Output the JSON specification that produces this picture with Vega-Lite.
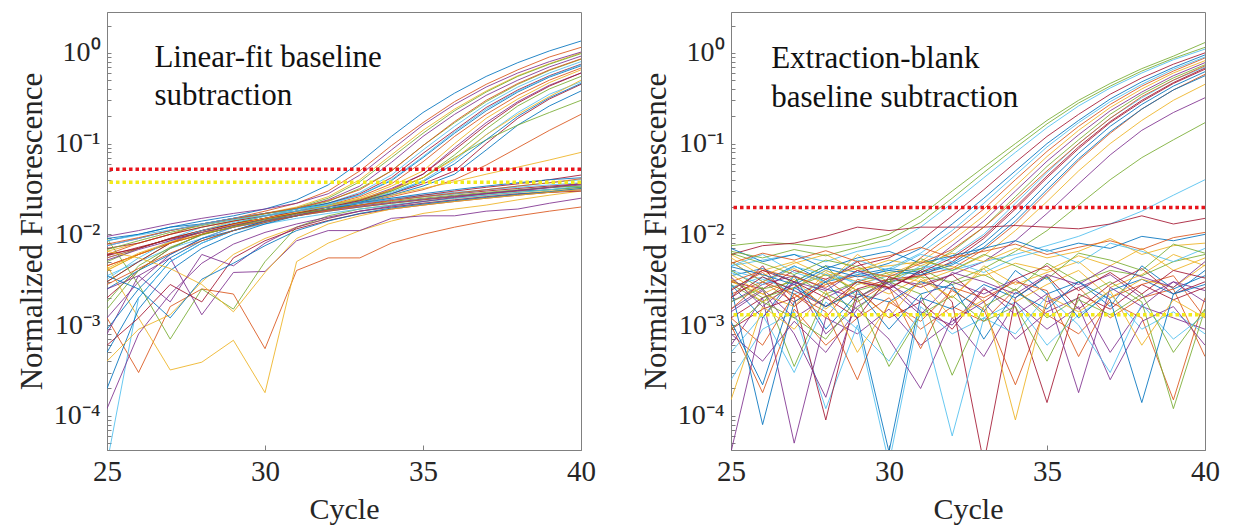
{
"$schema": "https://vega.github.io/schema/vega-lite/v6.json",
"padding": {"left": 15, "top": 11, "right": 0, "bottom": 0},
"background": "white",
"spacing": 150,
"bounds": "flush",
"config": {
  "view": {"stroke": "#808080", "strokeWidth": 1},
  "axis": {"labelFont": "Liberation Serif", "titleFont": "Liberation Serif", "labelColor": "#262626", "titleColor": "#262626", "domainColor": "#808080", "tickColor": "#808080", "grid": false, "titleFontWeight": "normal"}
},
"datasets": {
"left": [
{"s":"a01","c":25,"v":0.0085},{"s":"a01","c":26,"v":0.010},{"s":"a01","c":27,"v":0.012},{"s":"a01","c":28,"v":0.014},{"s":"a01","c":29,"v":0.016},{"s":"a01","c":30,"v":0.019},{"s":"a01","c":31,"v":0.024},{"s":"a01","c":32,"v":0.035},{"s":"a01","c":33,"v":0.062},{"s":"a01","c":34,"v":0.12},{"s":"a01","c":35,"v":0.22},{"s":"a01","c":36,"v":0.36},{"s":"a01","c":37,"v":0.55},{"s":"a01","c":38,"v":0.78},{"s":"a01","c":39,"v":1.05},{"s":"a01","c":40,"v":1.35},
{"s":"a02","c":25,"v":0.006},{"s":"a02","c":26,"v":0.008},{"s":"a02","c":27,"v":0.010},{"s":"a02","c":28,"v":0.013},{"s":"a02","c":29,"v":0.015},{"s":"a02","c":30,"v":0.018},{"s":"a02","c":31,"v":0.022},{"s":"a02","c":32,"v":0.030},{"s":"a02","c":33,"v":0.050},{"s":"a02","c":34,"v":0.095},{"s":"a02","c":35,"v":0.17},{"s":"a02","c":36,"v":0.29},{"s":"a02","c":37,"v":0.45},{"s":"a02","c":38,"v":0.65},{"s":"a02","c":39,"v":0.9},{"s":"a02","c":40,"v":1.15},
{"s":"a03","c":25,"v":0.004},{"s":"a03","c":26,"v":0.006},{"s":"a03","c":27,"v":0.008},{"s":"a03","c":28,"v":0.011},{"s":"a03","c":29,"v":0.014},{"s":"a03","c":30,"v":0.017},{"s":"a03","c":31,"v":0.020},{"s":"a03","c":32,"v":0.026},{"s":"a03","c":33,"v":0.040},{"s":"a03","c":34,"v":0.075},{"s":"a03","c":35,"v":0.14},{"s":"a03","c":36,"v":0.24},{"s":"a03","c":37,"v":0.38},{"s":"a03","c":38,"v":0.56},{"s":"a03","c":39,"v":0.76},{"s":"a03","c":40,"v":1.0},
{"s":"a04","c":25,"v":0.0075},{"s":"a04","c":26,"v":0.009},{"s":"a04","c":27,"v":0.011},{"s":"a04","c":28,"v":0.013},{"s":"a04","c":29,"v":0.015},{"s":"a04","c":30,"v":0.017},{"s":"a04","c":31,"v":0.019},{"s":"a04","c":32,"v":0.024},{"s":"a04","c":33,"v":0.034},{"s":"a04","c":34,"v":0.062},{"s":"a04","c":35,"v":0.12},{"s":"a04","c":36,"v":0.21},{"s":"a04","c":37,"v":0.34},{"s":"a04","c":38,"v":0.5},{"s":"a04","c":39,"v":0.7},{"s":"a04","c":40,"v":0.92},
{"s":"a05","c":25,"v":0.003},{"s":"a05","c":26,"v":0.005},{"s":"a05","c":27,"v":0.008},{"s":"a05","c":28,"v":0.010},{"s":"a05","c":29,"v":0.013},{"s":"a05","c":30,"v":0.016},{"s":"a05","c":31,"v":0.019},{"s":"a05","c":32,"v":0.023},{"s":"a05","c":33,"v":0.032},{"s":"a05","c":34,"v":0.050},{"s":"a05","c":35,"v":0.095},{"s":"a05","c":36,"v":0.17},{"s":"a05","c":37,"v":0.29},{"s":"a05","c":38,"v":0.45},{"s":"a05","c":39,"v":0.64},{"s":"a05","c":40,"v":0.85},
{"s":"a06","c":25,"v":0.0055},{"s":"a06","c":26,"v":0.007},{"s":"a06","c":27,"v":0.009},{"s":"a06","c":28,"v":0.012},{"s":"a06","c":29,"v":0.014},{"s":"a06","c":30,"v":0.016},{"s":"a06","c":31,"v":0.019},{"s":"a06","c":32,"v":0.022},{"s":"a06","c":33,"v":0.029},{"s":"a06","c":34,"v":0.045},{"s":"a06","c":35,"v":0.085},{"s":"a06","c":36,"v":0.155},{"s":"a06","c":37,"v":0.27},{"s":"a06","c":38,"v":0.42},{"s":"a06","c":39,"v":0.6},{"s":"a06","c":40,"v":0.8},
{"s":"a07","c":25,"v":0.002},{"s":"a07","c":26,"v":0.004},{"s":"a07","c":27,"v":0.007},{"s":"a07","c":28,"v":0.010},{"s":"a07","c":29,"v":0.012},{"s":"a07","c":30,"v":0.015},{"s":"a07","c":31,"v":0.018},{"s":"a07","c":32,"v":0.022},{"s":"a07","c":33,"v":0.028},{"s":"a07","c":34,"v":0.042},{"s":"a07","c":35,"v":0.078},{"s":"a07","c":36,"v":0.14},{"s":"a07","c":37,"v":0.25},{"s":"a07","c":38,"v":0.39},{"s":"a07","c":39,"v":0.56},{"s":"a07","c":40,"v":0.75},
{"s":"a08","c":25,"v":0.009},{"s":"a08","c":26,"v":0.010},{"s":"a08","c":27,"v":0.012},{"s":"a08","c":28,"v":0.013},{"s":"a08","c":29,"v":0.015},{"s":"a08","c":30,"v":0.017},{"s":"a08","c":31,"v":0.019},{"s":"a08","c":32,"v":0.022},{"s":"a08","c":33,"v":0.027},{"s":"a08","c":34,"v":0.039},{"s":"a08","c":35,"v":0.07},{"s":"a08","c":36,"v":0.13},{"s":"a08","c":37,"v":0.23},{"s":"a08","c":38,"v":0.37},{"s":"a08","c":39,"v":0.54},{"s":"a08","c":40,"v":0.72},
{"s":"a09","c":25,"v":0.0045},{"s":"a09","c":26,"v":0.006},{"s":"a09","c":27,"v":0.008},{"s":"a09","c":28,"v":0.011},{"s":"a09","c":29,"v":0.013},{"s":"a09","c":30,"v":0.015},{"s":"a09","c":31,"v":0.018},{"s":"a09","c":32,"v":0.021},{"s":"a09","c":33,"v":0.026},{"s":"a09","c":34,"v":0.036},{"s":"a09","c":35,"v":0.063},{"s":"a09","c":36,"v":0.12},{"s":"a09","c":37,"v":0.21},{"s":"a09","c":38,"v":0.34},{"s":"a09","c":39,"v":0.5},{"s":"a09","c":40,"v":0.68},
{"s":"a10","c":25,"v":0.0065},{"s":"a10","c":26,"v":0.008},{"s":"a10","c":27,"v":0.010},{"s":"a10","c":28,"v":0.012},{"s":"a10","c":29,"v":0.014},{"s":"a10","c":30,"v":0.016},{"s":"a10","c":31,"v":0.018},{"s":"a10","c":32,"v":0.021},{"s":"a10","c":33,"v":0.025},{"s":"a10","c":34,"v":0.034},{"s":"a10","c":35,"v":0.05},{"s":"a10","c":36,"v":0.10},{"s":"a10","c":37,"v":0.19},{"s":"a10","c":38,"v":0.31},{"s":"a10","c":39,"v":0.47},{"s":"a10","c":40,"v":0.65},
{"s":"a11","c":25,"v":0.0012},{"s":"a11","c":26,"v":0.003},{"s":"a11","c":27,"v":0.006},{"s":"a11","c":28,"v":0.009},{"s":"a11","c":29,"v":0.012},{"s":"a11","c":30,"v":0.014},{"s":"a11","c":31,"v":0.017},{"s":"a11","c":32,"v":0.020},{"s":"a11","c":33,"v":0.024},{"s":"a11","c":34,"v":0.032},{"s":"a11","c":35,"v":0.046},{"s":"a11","c":36,"v":0.09},{"s":"a11","c":37,"v":0.17},{"s":"a11","c":38,"v":0.29},{"s":"a11","c":39,"v":0.44},{"s":"a11","c":40,"v":0.6},
{"s":"a12","c":25,"v":0.005},{"s":"a12","c":26,"v":0.007},{"s":"a12","c":27,"v":0.009},{"s":"a12","c":28,"v":0.011},{"s":"a12","c":29,"v":0.013},{"s":"a12","c":30,"v":0.016},{"s":"a12","c":31,"v":0.018},{"s":"a12","c":32,"v":0.021},{"s":"a12","c":33,"v":0.024},{"s":"a12","c":34,"v":0.030},{"s":"a12","c":35,"v":0.042},{"s":"a12","c":36,"v":0.075},{"s":"a12","c":37,"v":0.145},{"s":"a12","c":38,"v":0.26},{"s":"a12","c":39,"v":0.4},{"s":"a12","c":40,"v":0.55},
{"s":"a13","c":25,"v":0.0035},{"s":"a13","c":26,"v":0.005},{"s":"a13","c":27,"v":0.007},{"s":"a13","c":28,"v":0.009},{"s":"a13","c":29,"v":0.012},{"s":"a13","c":30,"v":0.014},{"s":"a13","c":31,"v":0.017},{"s":"a13","c":32,"v":0.020},{"s":"a13","c":33,"v":0.023},{"s":"a13","c":34,"v":0.029},{"s":"a13","c":35,"v":0.039},{"s":"a13","c":36,"v":0.065},{"s":"a13","c":37,"v":0.125},{"s":"a13","c":38,"v":0.22},{"s":"a13","c":39,"v":0.35},{"s":"a13","c":40,"v":0.48},
{"s":"a14","c":25,"v":0.007},{"s":"a14","c":26,"v":0.008},{"s":"a14","c":27,"v":0.010},{"s":"a14","c":28,"v":0.012},{"s":"a14","c":29,"v":0.014},{"s":"a14","c":30,"v":0.016},{"s":"a14","c":31,"v":0.018},{"s":"a14","c":32,"v":0.020},{"s":"a14","c":33,"v":0.023},{"s":"a14","c":34,"v":0.028},{"s":"a14","c":35,"v":0.036},{"s":"a14","c":36,"v":0.05},{"s":"a14","c":37,"v":0.1},{"s":"a14","c":38,"v":0.19},{"s":"a14","c":39,"v":0.31},{"s":"a14","c":40,"v":0.45},
{"s":"a15","c":25,"v":0.0025},{"s":"a15","c":26,"v":0.004},{"s":"a15","c":27,"v":0.006},{"s":"a15","c":28,"v":0.009},{"s":"a15","c":29,"v":0.011},{"s":"a15","c":30,"v":0.014},{"s":"a15","c":31,"v":0.016},{"s":"a15","c":32,"v":0.019},{"s":"a15","c":33,"v":0.022},{"s":"a15","c":34,"v":0.027},{"s":"a15","c":35,"v":0.034},{"s":"a15","c":36,"v":0.046},{"s":"a15","c":37,"v":0.085},{"s":"a15","c":38,"v":0.16},{"s":"a15","c":39,"v":0.26},{"s":"a15","c":40,"v":0.38},
{"s":"a16","c":25,"v":0.0055},{"s":"a16","c":26,"v":0.007},{"s":"a16","c":27,"v":0.009},{"s":"a16","c":28,"v":0.011},{"s":"a16","c":29,"v":0.013},{"s":"a16","c":30,"v":0.015},{"s":"a16","c":31,"v":0.017},{"s":"a16","c":32,"v":0.019},{"s":"a16","c":33,"v":0.022},{"s":"a16","c":34,"v":0.026},{"s":"a16","c":35,"v":0.031},{"s":"a16","c":36,"v":0.04},{"s":"a16","c":37,"v":0.058},{"s":"a16","c":38,"v":0.09},{"s":"a16","c":39,"v":0.14},{"s":"a16","c":40,"v":0.21},
{"s":"a17","c":25,"v":0.004},{"s":"a17","c":26,"v":0.006},{"s":"a17","c":27,"v":0.008},{"s":"a17","c":28,"v":0.010},{"s":"a17","c":29,"v":0.013},{"s":"a17","c":30,"v":0.015},{"s":"a17","c":31,"v":0.017},{"s":"a17","c":32,"v":0.020},{"s":"a17","c":33,"v":0.023},{"s":"a17","c":34,"v":0.027},{"s":"a17","c":35,"v":0.032},{"s":"a17","c":36,"v":0.038},{"s":"a17","c":37,"v":0.046},{"s":"a17","c":38,"v":0.055},{"s":"a17","c":39,"v":0.066},{"s":"a17","c":40,"v":0.08},
{"s":"a18","c":25,"v":0.0095},{"s":"a18","c":26,"v":0.011},{"s":"a18","c":27,"v":0.013},{"s":"a18","c":28,"v":0.015},{"s":"a18","c":29,"v":0.017},{"s":"a18","c":30,"v":0.019},{"s":"a18","c":31,"v":0.022},{"s":"a18","c":32,"v":0.028},{"s":"a18","c":33,"v":0.045},{"s":"a18","c":34,"v":0.085},{"s":"a18","c":35,"v":0.16},{"s":"a18","c":36,"v":0.27},{"s":"a18","c":37,"v":0.42},{"s":"a18","c":38,"v":0.6},{"s":"a18","c":39,"v":0.8},{"s":"a18","c":40,"v":1.02},
{"s":"a19","c":25,"v":0.0015},{"s":"a19","c":26,"v":0.004},{"s":"a19","c":27,"v":0.007},{"s":"a19","c":28,"v":0.010},{"s":"a19","c":29,"v":0.012},{"s":"a19","c":30,"v":0.015},{"s":"a19","c":31,"v":0.017},{"s":"a19","c":32,"v":0.020},{"s":"a19","c":33,"v":0.023},{"s":"a19","c":34,"v":0.030},{"s":"a19","c":35,"v":0.042},{"s":"a19","c":36,"v":0.07},{"s":"a19","c":37,"v":0.11},{"s":"a19","c":38,"v":0.16},{"s":"a19","c":39,"v":0.22},{"s":"a19","c":40,"v":0.3},
{"s":"a20","c":25,"v":0.0075},{"s":"a20","c":26,"v":0.009},{"s":"a20","c":27,"v":0.011},{"s":"a20","c":28,"v":0.013},{"s":"a20","c":29,"v":0.015},{"s":"a20","c":30,"v":0.017},{"s":"a20","c":31,"v":0.019},{"s":"a20","c":32,"v":0.021},{"s":"a20","c":33,"v":0.023},{"s":"a20","c":34,"v":0.025},{"s":"a20","c":35,"v":0.027},{"s":"a20","c":36,"v":0.029},{"s":"a20","c":37,"v":0.031},{"s":"a20","c":38,"v":0.033},{"s":"a20","c":39,"v":0.035},{"s":"a20","c":40,"v":0.037},
{"s":"a21","c":25,"v":0.003},{"s":"a21","c":26,"v":0.005},{"s":"a21","c":27,"v":0.008},{"s":"a21","c":28,"v":0.011},{"s":"a21","c":29,"v":0.013},{"s":"a21","c":30,"v":0.015},{"s":"a21","c":31,"v":0.018},{"s":"a21","c":32,"v":0.020},{"s":"a21","c":33,"v":0.022},{"s":"a21","c":34,"v":0.024},{"s":"a21","c":35,"v":0.026},{"s":"a21","c":36,"v":0.028},{"s":"a21","c":37,"v":0.030},{"s":"a21","c":38,"v":0.032},{"s":"a21","c":39,"v":0.034},{"s":"a21","c":40,"v":0.036},
{"s":"a22","c":25,"v":0.0005},{"s":"a22","c":26,"v":0.002},{"s":"a22","c":27,"v":0.005},{"s":"a22","c":28,"v":0.008},{"s":"a22","c":29,"v":0.011},{"s":"a22","c":30,"v":0.014},{"s":"a22","c":31,"v":0.016},{"s":"a22","c":32,"v":0.018},{"s":"a22","c":33,"v":0.020},{"s":"a22","c":34,"v":0.022},{"s":"a22","c":35,"v":0.024},{"s":"a22","c":36,"v":0.026},{"s":"a22","c":37,"v":0.028},{"s":"a22","c":38,"v":0.030},{"s":"a22","c":39,"v":0.031},{"s":"a22","c":40,"v":0.033},
{"s":"a23","c":25,"v":0.0012},{"s":"a23","c":26,"v":0.0003},{"s":"a23","c":27,"v":0.0016},{"s":"a23","c":28,"v":0.0025},{"s":"a23","c":29,"v":0.0022},{"s":"a23","c":30,"v":0.00055},{"s":"a23","c":31,"v":0.004},{"s":"a23","c":32,"v":0.0055},{"s":"a23","c":33,"v":0.0055},{"s":"a23","c":34,"v":0.008},{"s":"a23","c":35,"v":0.010},{"s":"a23","c":36,"v":0.012},{"s":"a23","c":37,"v":0.014},{"s":"a23","c":38,"v":0.016},{"s":"a23","c":39,"v":0.018},{"s":"a23","c":40,"v":0.02},
{"s":"a24","c":25,"v":0.0045},{"s":"a24","c":26,"v":0.0012},{"s":"a24","c":27,"v":0.00032},{"s":"a24","c":28,"v":0.00039},{"s":"a24","c":29,"v":0.00068},{"s":"a24","c":30,"v":0.00018},{"s":"a24","c":31,"v":0.005},{"s":"a24","c":32,"v":0.008},{"s":"a24","c":33,"v":0.011},{"s":"a24","c":34,"v":0.014},{"s":"a24","c":35,"v":0.017},{"s":"a24","c":36,"v":0.019},{"s":"a24","c":37,"v":0.021},{"s":"a24","c":38,"v":0.024},{"s":"a24","c":39,"v":0.027},{"s":"a24","c":40,"v":0.03},
{"s":"a25","c":25,"v":0.0008},{"s":"a25","c":26,"v":0.0035},{"s":"a25","c":27,"v":0.0055},{"s":"a25","c":28,"v":0.0013},{"s":"a25","c":29,"v":0.0038},{"s":"a25","c":30,"v":0.0039},{"s":"a25","c":31,"v":0.0085},{"s":"a25","c":32,"v":0.011},{"s":"a25","c":33,"v":0.011},{"s":"a25","c":34,"v":0.015},{"s":"a25","c":35,"v":0.016},{"s":"a25","c":36,"v":0.016},{"s":"a25","c":37,"v":0.018},{"s":"a25","c":38,"v":0.019},{"s":"a25","c":39,"v":0.022},{"s":"a25","c":40,"v":0.025},
{"s":"a26","c":25,"v":0.009},{"s":"a26","c":26,"v":0.0028},{"s":"a26","c":27,"v":0.0007},{"s":"a26","c":28,"v":0.0025},{"s":"a26","c":29,"v":0.0015},{"s":"a26","c":30,"v":0.005},{"s":"a26","c":31,"v":0.012},{"s":"a26","c":32,"v":0.016},{"s":"a26","c":33,"v":0.019},{"s":"a26","c":34,"v":0.021},{"s":"a26","c":35,"v":0.023},{"s":"a26","c":36,"v":0.025},{"s":"a26","c":37,"v":0.027},{"s":"a26","c":38,"v":0.029},{"s":"a26","c":39,"v":0.031},{"s":"a26","c":40,"v":0.033},
{"s":"a27","c":25,"v":0.00003},{"s":"a27","c":26,"v":0.002},{"s":"a27","c":27,"v":0.005},{"s":"a27","c":28,"v":0.008},{"s":"a27","c":29,"v":0.011},{"s":"a27","c":30,"v":0.013},{"s":"a27","c":31,"v":0.015},{"s":"a27","c":32,"v":0.017},{"s":"a27","c":33,"v":0.019},{"s":"a27","c":34,"v":0.021},{"s":"a27","c":35,"v":0.023},{"s":"a27","c":36,"v":0.025},{"s":"a27","c":37,"v":0.027},{"s":"a27","c":38,"v":0.029},{"s":"a27","c":39,"v":0.031},{"s":"a27","c":40,"v":0.034},
{"s":"a28","c":25,"v":0.006},{"s":"a28","c":26,"v":0.007},{"s":"a28","c":27,"v":0.009},{"s":"a28","c":28,"v":0.011},{"s":"a28","c":29,"v":0.013},{"s":"a28","c":30,"v":0.015},{"s":"a28","c":31,"v":0.017},{"s":"a28","c":32,"v":0.019},{"s":"a28","c":33,"v":0.021},{"s":"a28","c":34,"v":0.024},{"s":"a28","c":35,"v":0.027},{"s":"a28","c":36,"v":0.030},{"s":"a28","c":37,"v":0.033},{"s":"a28","c":38,"v":0.036},{"s":"a28","c":39,"v":0.040},{"s":"a28","c":40,"v":0.045},
{"s":"a29","c":25,"v":0.0002},{"s":"a29","c":26,"v":0.0015},{"s":"a29","c":27,"v":0.004},{"s":"a29","c":28,"v":0.007},{"s":"a29","c":29,"v":0.010},{"s":"a29","c":30,"v":0.013},{"s":"a29","c":31,"v":0.016},{"s":"a29","c":32,"v":0.019},{"s":"a29","c":33,"v":0.022},{"s":"a29","c":34,"v":0.025},{"s":"a29","c":35,"v":0.028},{"s":"a29","c":36,"v":0.031},{"s":"a29","c":37,"v":0.034},{"s":"a29","c":38,"v":0.037},{"s":"a29","c":39,"v":0.040},{"s":"a29","c":40,"v":0.042},
{"s":"a30","c":25,"v":0.0045},{"s":"a30","c":26,"v":0.006},{"s":"a30","c":27,"v":0.008},{"s":"a30","c":28,"v":0.010},{"s":"a30","c":29,"v":0.012},{"s":"a30","c":30,"v":0.014},{"s":"a30","c":31,"v":0.016},{"s":"a30","c":32,"v":0.018},{"s":"a30","c":33,"v":0.020},{"s":"a30","c":34,"v":0.022},{"s":"a30","c":35,"v":0.024},{"s":"a30","c":36,"v":0.026},{"s":"a30","c":37,"v":0.028},{"s":"a30","c":38,"v":0.030},{"s":"a30","c":39,"v":0.033},{"s":"a30","c":40,"v":0.036},
{"s":"a31","c":25,"v":0.0004},{"s":"a31","c":26,"v":0.0009},{"s":"a31","c":27,"v":0.0013},{"s":"a31","c":28,"v":0.003},{"s":"a31","c":29,"v":0.006},{"s":"a31","c":30,"v":0.009},{"s":"a31","c":31,"v":0.012},{"s":"a31","c":32,"v":0.015},{"s":"a31","c":33,"v":0.018},{"s":"a31","c":34,"v":0.020},{"s":"a31","c":35,"v":0.022},{"s":"a31","c":36,"v":0.024},{"s":"a31","c":37,"v":0.026},{"s":"a31","c":38,"v":0.028},{"s":"a31","c":39,"v":0.030},{"s":"a31","c":40,"v":0.032},
{"s":"a32","c":25,"v":0.0025},{"s":"a32","c":26,"v":0.0035},{"s":"a32","c":27,"v":0.0018},{"s":"a32","c":28,"v":0.006},{"s":"a32","c":29,"v":0.0045},{"s":"a32","c":30,"v":0.008},{"s":"a32","c":31,"v":0.012},{"s":"a32","c":32,"v":0.015},{"s":"a32","c":33,"v":0.018},{"s":"a32","c":34,"v":0.020},{"s":"a32","c":35,"v":0.022},{"s":"a32","c":36,"v":0.024},{"s":"a32","c":37,"v":0.026},{"s":"a32","c":38,"v":0.028},{"s":"a32","c":39,"v":0.029},{"s":"a32","c":40,"v":0.031},
{"s":"a33","c":25,"v":0.0068},{"s":"a33","c":26,"v":0.0085},{"s":"a33","c":27,"v":0.0105},{"s":"a33","c":28,"v":0.0125},{"s":"a33","c":29,"v":0.0145},{"s":"a33","c":30,"v":0.0168},{"s":"a33","c":31,"v":0.0195},{"s":"a33","c":32,"v":0.025},{"s":"a33","c":33,"v":0.038},{"s":"a33","c":34,"v":0.07},{"s":"a33","c":35,"v":0.13},{"s":"a33","c":36,"v":0.23},{"s":"a33","c":37,"v":0.37},{"s":"a33","c":38,"v":0.55},{"s":"a33","c":39,"v":0.75},{"s":"a33","c":40,"v":0.98},
{"s":"a34","c":25,"v":0.0032},{"s":"a34","c":26,"v":0.0055},{"s":"a34","c":27,"v":0.0085},{"s":"a34","c":28,"v":0.011},{"s":"a34","c":29,"v":0.0135},{"s":"a34","c":30,"v":0.0158},{"s":"a34","c":31,"v":0.0182},{"s":"a34","c":32,"v":0.0215},{"s":"a34","c":33,"v":0.027},{"s":"a34","c":34,"v":0.04},{"s":"a34","c":35,"v":0.072},{"s":"a34","c":36,"v":0.135},{"s":"a34","c":37,"v":0.24},{"s":"a34","c":38,"v":0.38},{"s":"a34","c":39,"v":0.55},{"s":"a34","c":40,"v":0.74},
{"s":"a35","c":25,"v":0.0058},{"s":"a35","c":26,"v":0.0072},{"s":"a35","c":27,"v":0.0088},{"s":"a35","c":28,"v":0.0105},{"s":"a35","c":29,"v":0.0125},{"s":"a35","c":30,"v":0.0148},{"s":"a35","c":31,"v":0.0172},{"s":"a35","c":32,"v":0.020},{"s":"a35","c":33,"v":0.0235},{"s":"a35","c":34,"v":0.031},{"s":"a35","c":35,"v":0.046},{"s":"a35","c":36,"v":0.085},{"s":"a35","c":37,"v":0.16},{"s":"a35","c":38,"v":0.28},{"s":"a35","c":39,"v":0.43},{"s":"a35","c":40,"v":0.6},
{"s":"a36","c":25,"v":0.0009},{"s":"a36","c":26,"v":0.0025},{"s":"a36","c":27,"v":0.0055},{"s":"a36","c":28,"v":0.0085},{"s":"a36","c":29,"v":0.011},{"s":"a36","c":30,"v":0.0135},{"s":"a36","c":31,"v":0.016},{"s":"a36","c":32,"v":0.019},{"s":"a36","c":33,"v":0.0225},{"s":"a36","c":34,"v":0.028},{"s":"a36","c":35,"v":0.038},{"s":"a36","c":36,"v":0.06},{"s":"a36","c":37,"v":0.11},{"s":"a36","c":38,"v":0.2},{"s":"a36","c":39,"v":0.32},{"s":"a36","c":40,"v":0.46},
{"s":"a37","c":25,"v":0.0078},{"s":"a37","c":26,"v":0.0092},{"s":"a37","c":27,"v":0.011},{"s":"a37","c":28,"v":0.0128},{"s":"a37","c":29,"v":0.0148},{"s":"a37","c":30,"v":0.017},{"s":"a37","c":31,"v":0.0195},{"s":"a37","c":32,"v":0.0235},{"s":"a37","c":33,"v":0.031},{"s":"a37","c":34,"v":0.05},{"s":"a37","c":35,"v":0.095},{"s":"a37","c":36,"v":0.175},{"s":"a37","c":37,"v":0.3},{"s":"a37","c":38,"v":0.46},{"s":"a37","c":39,"v":0.65},{"s":"a37","c":40,"v":0.86},
{"s":"a38","c":25,"v":0.0042},{"s":"a38","c":26,"v":0.0062},{"s":"a38","c":27,"v":0.0082},{"s":"a38","c":28,"v":0.0105},{"s":"a38","c":29,"v":0.0128},{"s":"a38","c":30,"v":0.015},{"s":"a38","c":31,"v":0.0175},{"s":"a38","c":32,"v":0.0205},{"s":"a38","c":33,"v":0.0245},{"s":"a38","c":34,"v":0.031},{"s":"a38","c":35,"v":0.042},{"s":"a38","c":36,"v":0.068},{"s":"a38","c":37,"v":0.125},{"s":"a38","c":38,"v":0.21},{"s":"a38","c":39,"v":0.33},{"s":"a38","c":40,"v":0.5},
{"s":"a39","c":25,"v":0.0052},{"s":"a39","c":26,"v":0.0068},{"s":"a39","c":27,"v":0.0085},{"s":"a39","c":28,"v":0.0105},{"s":"a39","c":29,"v":0.0125},{"s":"a39","c":30,"v":0.0145},{"s":"a39","c":31,"v":0.0165},{"s":"a39","c":32,"v":0.0185},{"s":"a39","c":33,"v":0.0205},{"s":"a39","c":34,"v":0.0225},{"s":"a39","c":35,"v":0.0245},{"s":"a39","c":36,"v":0.0265},{"s":"a39","c":37,"v":0.0285},{"s":"a39","c":38,"v":0.0305},{"s":"a39","c":39,"v":0.0325},{"s":"a39","c":40,"v":0.035},
{"s":"a40","c":25,"v":0.0018},{"s":"a40","c":26,"v":0.0045},{"s":"a40","c":27,"v":0.0072},{"s":"a40","c":28,"v":0.0098},{"s":"a40","c":29,"v":0.0122},{"s":"a40","c":30,"v":0.0145},{"s":"a40","c":31,"v":0.0168},{"s":"a40","c":32,"v":0.019},{"s":"a40","c":33,"v":0.021},{"s":"a40","c":34,"v":0.023},{"s":"a40","c":35,"v":0.025},{"s":"a40","c":36,"v":0.027},{"s":"a40","c":37,"v":0.029},{"s":"a40","c":38,"v":0.031},{"s":"a40","c":39,"v":0.033},{"s":"a40","c":40,"v":0.034},
{"s":"a41","c":25,"v":0.0085},{"s":"a41","c":26,"v":0.0098},{"s":"a41","c":27,"v":0.0112},{"s":"a41","c":28,"v":0.0128},{"s":"a41","c":29,"v":0.0145},{"s":"a41","c":30,"v":0.0162},{"s":"a41","c":31,"v":0.018},{"s":"a41","c":32,"v":0.020},{"s":"a41","c":33,"v":0.022},{"s":"a41","c":34,"v":0.024},{"s":"a41","c":35,"v":0.026},{"s":"a41","c":36,"v":0.028},{"s":"a41","c":37,"v":0.031},{"s":"a41","c":38,"v":0.034},{"s":"a41","c":39,"v":0.037},{"s":"a41","c":40,"v":0.04},
{"s":"a42","c":25,"v":0.0006},{"s":"a42","c":26,"v":0.0012},{"s":"a42","c":27,"v":0.0028},{"s":"a42","c":28,"v":0.0018},{"s":"a42","c":29,"v":0.0055},{"s":"a42","c":30,"v":0.0085},{"s":"a42","c":31,"v":0.0115},{"s":"a42","c":32,"v":0.0142},{"s":"a42","c":33,"v":0.0168},{"s":"a42","c":34,"v":0.019},{"s":"a42","c":35,"v":0.021},{"s":"a42","c":36,"v":0.023},{"s":"a42","c":37,"v":0.025},{"s":"a42","c":38,"v":0.027},{"s":"a42","c":39,"v":0.029},{"s":"a42","c":40,"v":0.03},
{"s":"a43","c":25,"v":0.0035},{"s":"a43","c":26,"v":0.0025},{"s":"a43","c":27,"v":0.0012},{"s":"a43","c":28,"v":0.0032},{"s":"a43","c":29,"v":0.0048},{"s":"a43","c":30,"v":0.0075},{"s":"a43","c":31,"v":0.011},{"s":"a43","c":32,"v":0.014},{"s":"a43","c":33,"v":0.017},{"s":"a43","c":34,"v":0.0195},{"s":"a43","c":35,"v":0.0215},{"s":"a43","c":36,"v":0.0235},{"s":"a43","c":37,"v":0.0255},{"s":"a43","c":38,"v":0.0275},{"s":"a43","c":39,"v":0.0295},{"s":"a43","c":40,"v":0.032},
{"s":"a44","c":25,"v":0.0028},{"s":"a44","c":26,"v":0.0042},{"s":"a44","c":27,"v":0.0062},{"s":"a44","c":28,"v":0.0085},{"s":"a44","c":29,"v":0.011},{"s":"a44","c":30,"v":0.0135},{"s":"a44","c":31,"v":0.016},{"s":"a44","c":32,"v":0.0185},{"s":"a44","c":33,"v":0.021},{"s":"a44","c":34,"v":0.0235},{"s":"a44","c":35,"v":0.026},{"s":"a44","c":36,"v":0.0285},{"s":"a44","c":37,"v":0.031},{"s":"a44","c":38,"v":0.034},{"s":"a44","c":39,"v":0.037},{"s":"a44","c":40,"v":0.041},
{"s":"a45","c":25,"v":0.0065},{"s":"a45","c":26,"v":0.0055},{"s":"a45","c":27,"v":0.0042},{"s":"a45","c":28,"v":0.0028},{"s":"a45","c":29,"v":0.0014},{"s":"a45","c":30,"v":0.0038},{"s":"a45","c":31,"v":0.009},{"s":"a45","c":32,"v":0.013},{"s":"a45","c":33,"v":0.016},{"s":"a45","c":34,"v":0.019},{"s":"a45","c":35,"v":0.021},{"s":"a45","c":36,"v":0.023},{"s":"a45","c":37,"v":0.025},{"s":"a45","c":38,"v":0.027},{"s":"a45","c":39,"v":0.029},{"s":"a45","c":40,"v":0.031},
{"s":"a46","c":25,"v":0.00012},{"s":"a46","c":26,"v":0.0008},{"s":"a46","c":27,"v":0.0022},{"s":"a46","c":28,"v":0.0048},{"s":"a46","c":29,"v":0.0078},{"s":"a46","c":30,"v":0.0105},{"s":"a46","c":31,"v":0.013},{"s":"a46","c":32,"v":0.0155},{"s":"a46","c":33,"v":0.018},{"s":"a46","c":34,"v":0.0205},{"s":"a46","c":35,"v":0.023},{"s":"a46","c":36,"v":0.0255},{"s":"a46","c":37,"v":0.028},{"s":"a46","c":38,"v":0.0305},{"s":"a46","c":39,"v":0.033},{"s":"a46","c":40,"v":0.036}
],
"right": [
{"s":"b01","c":25,"v":0.0075},{"s":"b01","c":26,"v":0.0082},{"s":"b01","c":27,"v":0.0078},{"s":"b01","c":28,"v":0.0072},{"s":"b01","c":29,"v":0.0080},{"s":"b01","c":30,"v":0.0100},{"s":"b01","c":31,"v":0.016},{"s":"b01","c":32,"v":0.030},{"s":"b01","c":33,"v":0.055},{"s":"b01","c":34,"v":0.10},{"s":"b01","c":35,"v":0.18},{"s":"b01","c":36,"v":0.30},{"s":"b01","c":37,"v":0.46},{"s":"b01","c":38,"v":0.67},{"s":"b01","c":39,"v":0.92},{"s":"b01","c":40,"v":1.3},
{"s":"b02","c":25,"v":0.0045},{"s":"b02","c":26,"v":0.0052},{"s":"b02","c":27,"v":0.0060},{"s":"b02","c":28,"v":0.0050},{"s":"b02","c":29,"v":0.0065},{"s":"b02","c":30,"v":0.0075},{"s":"b02","c":31,"v":0.012},{"s":"b02","c":32,"v":0.022},{"s":"b02","c":33,"v":0.042},{"s":"b02","c":34,"v":0.080},{"s":"b02","c":35,"v":0.15},{"s":"b02","c":36,"v":0.26},{"s":"b02","c":37,"v":0.41},{"s":"b02","c":38,"v":0.6},{"s":"b02","c":39,"v":0.84},{"s":"b02","c":40,"v":1.1},
{"s":"b03","c":25,"v":0.003},{"s":"b03","c":26,"v":0.0025},{"s":"b03","c":27,"v":0.0040},{"s":"b03","c":28,"v":0.0032},{"s":"b03","c":29,"v":0.0045},{"s":"b03","c":30,"v":0.0055},{"s":"b03","c":31,"v":0.0085},{"s":"b03","c":32,"v":0.016},{"s":"b03","c":33,"v":0.031},{"s":"b03","c":34,"v":0.062},{"s":"b03","c":35,"v":0.12},{"s":"b03","c":36,"v":0.21},{"s":"b03","c":37,"v":0.35},{"s":"b03","c":38,"v":0.53},{"s":"b03","c":39,"v":0.75},{"s":"b03","c":40,"v":1.0},
{"s":"b04","c":25,"v":0.0035},{"s":"b04","c":26,"v":0.0042},{"s":"b04","c":27,"v":0.0030},{"s":"b04","c":28,"v":0.0045},{"s":"b04","c":29,"v":0.0038},{"s":"b04","c":30,"v":0.0048},{"s":"b04","c":31,"v":0.0070},{"s":"b04","c":32,"v":0.013},{"s":"b04","c":33,"v":0.025},{"s":"b04","c":34,"v":0.050},{"s":"b04","c":35,"v":0.10},{"s":"b04","c":36,"v":0.18},{"s":"b04","c":37,"v":0.31},{"s":"b04","c":38,"v":0.48},{"s":"b04","c":39,"v":0.69},{"s":"b04","c":40,"v":0.95},
{"s":"b05","c":25,"v":0.0022},{"s":"b05","c":26,"v":0.0030},{"s":"b05","c":27,"v":0.0018},{"s":"b05","c":28,"v":0.0028},{"s":"b05","c":29,"v":0.0035},{"s":"b05","c":30,"v":0.0030},{"s":"b05","c":31,"v":0.0055},{"s":"b05","c":32,"v":0.010},{"s":"b05","c":33,"v":0.019},{"s":"b05","c":34,"v":0.040},{"s":"b05","c":35,"v":0.082},{"s":"b05","c":36,"v":0.155},{"s":"b05","c":37,"v":0.27},{"s":"b05","c":38,"v":0.43},{"s":"b05","c":39,"v":0.63},{"s":"b05","c":40,"v":0.88},
{"s":"b06","c":25,"v":0.0060},{"s":"b06","c":26,"v":0.0040},{"s":"b06","c":27,"v":0.0050},{"s":"b06","c":28,"v":0.0035},{"s":"b06","c":29,"v":0.0042},{"s":"b06","c":30,"v":0.0045},{"s":"b06","c":31,"v":0.0050},{"s":"b06","c":32,"v":0.0085},{"s":"b06","c":33,"v":0.016},{"s":"b06","c":34,"v":0.034},{"s":"b06","c":35,"v":0.072},{"s":"b06","c":36,"v":0.14},{"s":"b06","c":37,"v":0.25},{"s":"b06","c":38,"v":0.40},{"s":"b06","c":39,"v":0.6},{"s":"b06","c":40,"v":0.82},
{"s":"b07","c":25,"v":0.0015},{"s":"b07","c":26,"v":0.0025},{"s":"b07","c":27,"v":0.0012},{"s":"b07","c":28,"v":0.0020},{"s":"b07","c":29,"v":0.0030},{"s":"b07","c":30,"v":0.0025},{"s":"b07","c":31,"v":0.0040},{"s":"b07","c":32,"v":0.0075},{"s":"b07","c":33,"v":0.014},{"s":"b07","c":34,"v":0.030},{"s":"b07","c":35,"v":0.064},{"s":"b07","c":36,"v":0.125},{"s":"b07","c":37,"v":0.23},{"s":"b07","c":38,"v":0.37},{"s":"b07","c":39,"v":0.56},{"s":"b07","c":40,"v":0.78},
{"s":"b08","c":25,"v":0.0028},{"s":"b08","c":26,"v":0.0018},{"s":"b08","c":27,"v":0.0035},{"s":"b08","c":28,"v":0.0022},{"s":"b08","c":29,"v":0.0030},{"s":"b08","c":30,"v":0.0038},{"s":"b08","c":31,"v":0.0042},{"s":"b08","c":32,"v":0.0065},{"s":"b08","c":33,"v":0.012},{"s":"b08","c":34,"v":0.026},{"s":"b08","c":35,"v":0.056},{"s":"b08","c":36,"v":0.11},{"s":"b08","c":37,"v":0.21},{"s":"b08","c":38,"v":0.35},{"s":"b08","c":39,"v":0.53},{"s":"b08","c":40,"v":0.74},
{"s":"b09","c":25,"v":0.0040},{"s":"b09","c":26,"v":0.0032},{"s":"b09","c":27,"v":0.0025},{"s":"b09","c":28,"v":0.0040},{"s":"b09","c":29,"v":0.0028},{"s":"b09","c":30,"v":0.0035},{"s":"b09","c":31,"v":0.0040},{"s":"b09","c":32,"v":0.0058},{"s":"b09","c":33,"v":0.010},{"s":"b09","c":34,"v":0.022},{"s":"b09","c":35,"v":0.048},{"s":"b09","c":36,"v":0.10},{"s":"b09","c":37,"v":0.19},{"s":"b09","c":38,"v":0.32},{"s":"b09","c":39,"v":0.5},{"s":"b09","c":40,"v":0.7},
{"s":"b10","c":25,"v":0.0012},{"s":"b10","c":26,"v":0.0020},{"s":"b10","c":27,"v":0.0028},{"s":"b10","c":28,"v":0.0016},{"s":"b10","c":29,"v":0.0025},{"s":"b10","c":30,"v":0.0032},{"s":"b10","c":31,"v":0.0035},{"s":"b10","c":32,"v":0.0050},{"s":"b10","c":33,"v":0.0090},{"s":"b10","c":34,"v":0.019},{"s":"b10","c":35,"v":0.042},{"s":"b10","c":36,"v":0.088},{"s":"b10","c":37,"v":0.17},{"s":"b10","c":38,"v":0.29},{"s":"b10","c":39,"v":0.46},{"s":"b10","c":40,"v":0.66},
{"s":"b11","c":25,"v":0.0050},{"s":"b11","c":26,"v":0.0030},{"s":"b11","c":27,"v":0.0045},{"s":"b11","c":28,"v":0.0030},{"s":"b11","c":29,"v":0.0036},{"s":"b11","c":30,"v":0.0042},{"s":"b11","c":31,"v":0.0038},{"s":"b11","c":32,"v":0.0048},{"s":"b11","c":33,"v":0.0080},{"s":"b11","c":34,"v":0.016},{"s":"b11","c":35,"v":0.036},{"s":"b11","c":36,"v":0.078},{"s":"b11","c":37,"v":0.155},{"s":"b11","c":38,"v":0.27},{"s":"b11","c":39,"v":0.43},{"s":"b11","c":40,"v":0.62},
{"s":"b12","c":25,"v":0.0025},{"s":"b12","c":26,"v":0.0038},{"s":"b12","c":27,"v":0.0020},{"s":"b12","c":28,"v":0.0032},{"s":"b12","c":29,"v":0.0018},{"s":"b12","c":30,"v":0.0030},{"s":"b12","c":31,"v":0.0035},{"s":"b12","c":32,"v":0.0042},{"s":"b12","c":33,"v":0.0068},{"s":"b12","c":34,"v":0.013},{"s":"b12","c":35,"v":0.029},{"s":"b12","c":36,"v":0.065},{"s":"b12","c":37,"v":0.13},{"s":"b12","c":38,"v":0.24},{"s":"b12","c":39,"v":0.39},{"s":"b12","c":40,"v":0.58},
{"s":"b13","c":25,"v":0.0030},{"s":"b13","c":26,"v":0.0022},{"s":"b13","c":27,"v":0.0032},{"s":"b13","c":28,"v":0.0015},{"s":"b13","c":29,"v":0.0028},{"s":"b13","c":30,"v":0.0036},{"s":"b13","c":31,"v":0.0030},{"s":"b13","c":32,"v":0.0040},{"s":"b13","c":33,"v":0.0058},{"s":"b13","c":34,"v":0.011},{"s":"b13","c":35,"v":0.023},{"s":"b13","c":36,"v":0.05},{"s":"b13","c":37,"v":0.1},{"s":"b13","c":38,"v":0.18},{"s":"b13","c":39,"v":0.3},{"s":"b13","c":40,"v":0.45},
{"s":"b14","c":25,"v":0.0018},{"s":"b14","c":26,"v":0.0028},{"s":"b14","c":27,"v":0.0035},{"s":"b14","c":28,"v":0.0025},{"s":"b14","c":29,"v":0.0020},{"s":"b14","c":30,"v":0.0032},{"s":"b14","c":31,"v":0.0028},{"s":"b14","c":32,"v":0.0036},{"s":"b14","c":33,"v":0.0050},{"s":"b14","c":34,"v":0.0085},{"s":"b14","c":35,"v":0.017},{"s":"b14","c":36,"v":0.036},{"s":"b14","c":37,"v":0.075},{"s":"b14","c":38,"v":0.14},{"s":"b14","c":39,"v":0.22},{"s":"b14","c":40,"v":0.32},
{"s":"b15","c":25,"v":0.0032},{"s":"b15","c":26,"v":0.0020},{"s":"b15","c":27,"v":0.0026},{"s":"b15","c":28,"v":0.0036},{"s":"b15","c":29,"v":0.0024},{"s":"b15","c":30,"v":0.0030},{"s":"b15","c":31,"v":0.0034},{"s":"b15","c":32,"v":0.0030},{"s":"b15","c":33,"v":0.0042},{"s":"b15","c":34,"v":0.0065},{"s":"b15","c":35,"v":0.011},{"s":"b15","c":36,"v":0.021},{"s":"b15","c":37,"v":0.04},{"s":"b15","c":38,"v":0.07},{"s":"b15","c":39,"v":0.11},{"s":"b15","c":40,"v":0.17},
{"s":"b16","c":25,"v":0.0026},{"s":"b16","c":26,"v":0.0034},{"s":"b16","c":27,"v":0.0022},{"s":"b16","c":28,"v":0.0030},{"s":"b16","c":29,"v":0.0038},{"s":"b16","c":30,"v":0.0028},{"s":"b16","c":31,"v":0.0045},{"s":"b16","c":32,"v":0.0040},{"s":"b16","c":33,"v":0.0050},{"s":"b16","c":34,"v":0.0060},{"s":"b16","c":35,"v":0.0075},{"s":"b16","c":36,"v":0.0095},{"s":"b16","c":37,"v":0.013},{"s":"b16","c":38,"v":0.018},{"s":"b16","c":39,"v":0.027},{"s":"b16","c":40,"v":0.04},
{"s":"b17","c":25,"v":0.0060},{"s":"b17","c":26,"v":0.0075},{"s":"b17","c":27,"v":0.0080},{"s":"b17","c":28,"v":0.0095},{"s":"b17","c":29,"v":0.012},{"s":"b17","c":30,"v":0.011},{"s":"b17","c":31,"v":0.012},{"s":"b17","c":32,"v":0.012},{"s":"b17","c":33,"v":0.012},{"s":"b17","c":34,"v":0.0125},{"s":"b17","c":35,"v":0.012},{"s":"b17","c":36,"v":0.0115},{"s":"b17","c":37,"v":0.013},{"s":"b17","c":38,"v":0.016},{"s":"b17","c":39,"v":0.013},{"s":"b17","c":40,"v":0.015},
{"s":"b18","c":25,"v":0.0028},{"s":"b18","c":26,"v":0.0012},{"s":"b18","c":27,"v":0.0035},{"s":"b18","c":28,"v":0.0009},{"s":"b18","c":29,"v":0.0022},{"s":"b18","c":30,"v":0.0018},{"s":"b18","c":31,"v":0.0030},{"s":"b18","c":32,"v":0.0025},{"s":"b18","c":33,"v":0.0014},{"s":"b18","c":34,"v":0.0040},{"s":"b18","c":35,"v":0.0022},{"s":"b18","c":36,"v":0.0030},{"s":"b18","c":37,"v":0.0016},{"s":"b18","c":38,"v":0.0045},{"s":"b18","c":39,"v":0.0025},{"s":"b18","c":40,"v":0.0035},
{"s":"b19","c":25,"v":0.0010},{"s":"b19","c":26,"v":0.00018},{"s":"b19","c":27,"v":0.0015},{"s":"b19","c":28,"v":0.0006},{"s":"b19","c":29,"v":0.0012},{"s":"b19","c":30,"v":0.0020},{"s":"b19","c":31,"v":0.0009},{"s":"b19","c":32,"v":0.0016},{"s":"b19","c":33,"v":0.0011},{"s":"b19","c":34,"v":0.0025},{"s":"b19","c":35,"v":0.0013},{"s":"b19","c":36,"v":0.0008},{"s":"b19","c":37,"v":0.0018},{"s":"b19","c":38,"v":0.0012},{"s":"b19","c":39,"v":0.00015},{"s":"b19","c":40,"v":0.0020},
{"s":"b20","c":25,"v":0.0055},{"s":"b20","c":26,"v":0.0035},{"s":"b20","c":27,"v":0.0048},{"s":"b20","c":28,"v":0.0060},{"s":"b20","c":29,"v":0.0040},{"s":"b20","c":30,"v":0.0052},{"s":"b20","c":31,"v":0.0045},{"s":"b20","c":32,"v":0.0062},{"s":"b20","c":33,"v":0.0050},{"s":"b20","c":34,"v":0.0070},{"s":"b20","c":35,"v":0.0055},{"s":"b20","c":36,"v":0.0065},{"s":"b20","c":37,"v":0.0090},{"s":"b20","c":38,"v":0.0060},{"s":"b20","c":39,"v":0.0075},{"s":"b20","c":40,"v":0.0080},
{"s":"b21","c":25,"v":0.0006},{"s":"b21","c":26,"v":0.0020},{"s":"b21","c":27,"v":0.00005},{"s":"b21","c":28,"v":0.0012},{"s":"b21","c":29,"v":0.0008},{"s":"b21","c":30,"v":0.0015},{"s":"b21","c":31,"v":0.0006},{"s":"b21","c":32,"v":0.0011},{"s":"b21","c":33,"v":0.0018},{"s":"b21","c":34,"v":0.0007},{"s":"b21","c":35,"v":0.0014},{"s":"b21","c":36,"v":0.0020},{"s":"b21","c":37,"v":0.0005},{"s":"b21","c":38,"v":0.0016},{"s":"b21","c":39,"v":0.0012},{"s":"b21","c":40,"v":0.0009},
{"s":"b22","c":25,"v":0.0040},{"s":"b22","c":26,"v":0.0025},{"s":"b22","c":27,"v":0.0030},{"s":"b22","c":28,"v":0.0045},{"s":"b22","c":29,"v":0.0020},{"s":"b22","c":30,"v":0.0032},{"s":"b22","c":31,"v":0.0042},{"s":"b22","c":32,"v":0.0028},{"s":"b22","c":33,"v":0.0036},{"s":"b22","c":34,"v":0.0024},{"s":"b22","c":35,"v":0.0048},{"s":"b22","c":36,"v":0.0030},{"s":"b22","c":37,"v":0.0040},{"s":"b22","c":38,"v":0.0035},{"s":"b22","c":39,"v":0.0050},{"s":"b22","c":40,"v":0.0060},
{"s":"b23","c":25,"v":0.00025},{"s":"b23","c":26,"v":0.0009},{"s":"b23","c":27,"v":0.0014},{"s":"b23","c":28,"v":0.00012},{"s":"b23","c":29,"v":0.0010},{"s":"b23","c":30,"v":0.00003},{"s":"b23","c":31,"v":0.0016},{"s":"b23","c":32,"v":0.0008},{"s":"b23","c":33,"v":0.0012},{"s":"b23","c":34,"v":0.0018},{"s":"b23","c":35,"v":0.0006},{"s":"b23","c":36,"v":0.0013},{"s":"b23","c":37,"v":0.0022},{"s":"b23","c":38,"v":0.0009},{"s":"b23","c":39,"v":0.0014},{"s":"b23","c":40,"v":0.0008},
{"s":"b24","c":25,"v":0.0020},{"s":"b24","c":26,"v":0.0045},{"s":"b24","c":27,"v":0.0016},{"s":"b24","c":28,"v":0.0030},{"s":"b24","c":29,"v":0.0050},{"s":"b24","c":30,"v":0.0025},{"s":"b24","c":31,"v":0.0040},{"s":"b24","c":32,"v":0.0018},{"s":"b24","c":33,"v":0.00003},{"s":"b24","c":34,"v":0.0020},{"s":"b24","c":35,"v":0.0035},{"s":"b24","c":36,"v":0.0015},{"s":"b24","c":37,"v":0.0028},{"s":"b24","c":38,"v":0.0042},{"s":"b24","c":39,"v":0.0022},{"s":"b24","c":40,"v":0.0030},
{"s":"b25","c":25,"v":0.0070},{"s":"b25","c":26,"v":0.0050},{"s":"b25","c":27,"v":0.0060},{"s":"b25","c":28,"v":0.0042},{"s":"b25","c":29,"v":0.0055},{"s":"b25","c":30,"v":0.0065},{"s":"b25","c":31,"v":0.0048},{"s":"b25","c":32,"v":0.0058},{"s":"b25","c":33,"v":0.0070},{"s":"b25","c":34,"v":0.0085},{"s":"b25","c":35,"v":0.0065},{"s":"b25","c":36,"v":0.0080},{"s":"b25","c":37,"v":0.0070},{"s":"b25","c":38,"v":0.0095},{"s":"b25","c":39,"v":0.0085},{"s":"b25","c":40,"v":0.0100},
{"s":"b26","c":25,"v":0.0012},{"s":"b26","c":26,"v":0.0006},{"s":"b26","c":27,"v":0.0022},{"s":"b26","c":28,"v":0.0014},{"s":"b26","c":29,"v":0.00025},{"s":"b26","c":30,"v":0.0018},{"s":"b26","c":31,"v":0.0011},{"s":"b26","c":32,"v":0.0024},{"s":"b26","c":33,"v":0.0015},{"s":"b26","c":34,"v":0.00022},{"s":"b26","c":35,"v":0.0017},{"s":"b26","c":36,"v":0.0026},{"s":"b26","c":37,"v":0.0012},{"s":"b26","c":38,"v":0.0020},{"s":"b26","c":39,"v":0.0025},{"s":"b26","c":40,"v":0.00045},
{"s":"b27","c":25,"v":0.0032},{"s":"b27","c":26,"v":0.0018},{"s":"b27","c":27,"v":0.0026},{"s":"b27","c":28,"v":0.0040},{"s":"b27","c":29,"v":0.0030},{"s":"b27","c":30,"v":0.0022},{"s":"b27","c":31,"v":0.0034},{"s":"b27","c":32,"v":0.0020},{"s":"b27","c":33,"v":0.0045},{"s":"b27","c":34,"v":0.0028},{"s":"b27","c":35,"v":0.0038},{"s":"b27","c":36,"v":0.0050},{"s":"b27","c":37,"v":0.0026},{"s":"b27","c":38,"v":0.0036},{"s":"b27","c":39,"v":0.0060},{"s":"b27","c":40,"v":0.0045},
{"s":"b28","c":25,"v":0.00004},{"s":"b28","c":26,"v":0.0012},{"s":"b28","c":27,"v":0.0030},{"s":"b28","c":28,"v":0.0008},{"s":"b28","c":29,"v":0.0016},{"s":"b28","c":30,"v":0.0026},{"s":"b28","c":31,"v":0.0013},{"s":"b28","c":32,"v":0.0030},{"s":"b28","c":33,"v":0.0022},{"s":"b28","c":34,"v":0.0032},{"s":"b28","c":35,"v":0.0018},{"s":"b28","c":36,"v":0.0026},{"s":"b28","c":37,"v":0.0036},{"s":"b28","c":38,"v":0.0020},{"s":"b28","c":39,"v":0.0030},{"s":"b28","c":40,"v":0.0024},
{"s":"b29","c":25,"v":0.0018},{"s":"b29","c":26,"v":0.0026},{"s":"b29","c":27,"v":0.00035},{"s":"b29","c":28,"v":0.0022},{"s":"b29","c":29,"v":0.0015},{"s":"b29","c":30,"v":0.0030},{"s":"b29","c":31,"v":0.0022},{"s":"b29","c":32,"v":0.00028},{"s":"b29","c":33,"v":0.0016},{"s":"b29","c":34,"v":0.0025},{"s":"b29","c":35,"v":0.0012},{"s":"b29","c":36,"v":0.0020},{"s":"b29","c":37,"v":0.0030},{"s":"b29","c":38,"v":0.0018},{"s":"b29","c":39,"v":0.00012},{"s":"b29","c":40,"v":0.0015},
{"s":"b30","c":25,"v":0.0045},{"s":"b30","c":26,"v":0.0060},{"s":"b30","c":27,"v":0.0038},{"s":"b30","c":28,"v":0.0030},{"s":"b30","c":29,"v":0.0052},{"s":"b30","c":30,"v":0.0040},{"s":"b30","c":31,"v":0.0060},{"s":"b30","c":32,"v":0.0050},{"s":"b30","c":33,"v":0.0038},{"s":"b30","c":34,"v":0.0055},{"s":"b30","c":35,"v":0.0068},{"s":"b30","c":36,"v":0.0048},{"s":"b30","c":37,"v":0.0080},{"s":"b30","c":38,"v":0.0065},{"s":"b30","c":39,"v":0.0050},{"s":"b30","c":40,"v":0.0070},
{"s":"b31","c":25,"v":0.0009},{"s":"b31","c":26,"v":0.0015},{"s":"b31","c":27,"v":0.0020},{"s":"b31","c":28,"v":0.00009},{"s":"b31","c":29,"v":0.0025},{"s":"b31","c":30,"v":0.0012},{"s":"b31","c":31,"v":0.0018},{"s":"b31","c":32,"v":0.0009},{"s":"b31","c":33,"v":0.0025},{"s":"b31","c":34,"v":0.0016},{"s":"b31","c":35,"v":0.00014},{"s":"b31","c":36,"v":0.0022},{"s":"b31","c":37,"v":0.0015},{"s":"b31","c":38,"v":0.0028},{"s":"b31","c":39,"v":0.0019},{"s":"b31","c":40,"v":0.0026},
{"s":"b32","c":25,"v":0.0026},{"s":"b32","c":26,"v":0.00008},{"s":"b32","c":27,"v":0.0018},{"s":"b32","c":28,"v":0.0030},{"s":"b32","c":29,"v":0.0012},{"s":"b32","c":30,"v":0.00004},{"s":"b32","c":31,"v":0.0020},{"s":"b32","c":32,"v":0.0015},{"s":"b32","c":33,"v":0.0028},{"s":"b32","c":34,"v":0.0020},{"s":"b32","c":35,"v":0.0034},{"s":"b32","c":36,"v":0.0012},{"s":"b32","c":37,"v":0.0024},{"s":"b32","c":38,"v":0.0032},{"s":"b32","c":39,"v":0.0022},{"s":"b32","c":40,"v":0.0040},
{"s":"b33","c":25,"v":0.0015},{"s":"b33","c":26,"v":0.0030},{"s":"b33","c":27,"v":0.0022},{"s":"b33","c":28,"v":0.0012},{"s":"b33","c":29,"v":0.0032},{"s":"b33","c":30,"v":0.0026},{"s":"b33","c":31,"v":0.00055},{"s":"b33","c":32,"v":0.0026},{"s":"b33","c":33,"v":0.0020},{"s":"b33","c":34,"v":0.0030},{"s":"b33","c":35,"v":0.0024},{"s":"b33","c":36,"v":0.00045},{"s":"b33","c":37,"v":0.0020},{"s":"b33","c":38,"v":0.0028},{"s":"b33","c":39,"v":0.0035},{"s":"b33","c":40,"v":0.0012},
{"s":"b34","c":25,"v":0.0050},{"s":"b34","c":26,"v":0.0030},{"s":"b34","c":27,"v":0.0042},{"s":"b34","c":28,"v":0.0028},{"s":"b34","c":29,"v":0.0060},{"s":"b34","c":30,"v":0.0036},{"s":"b34","c":31,"v":0.0050},{"s":"b34","c":32,"v":0.0044},{"s":"b34","c":33,"v":0.0035},{"s":"b34","c":34,"v":0.0048},{"s":"b34","c":35,"v":0.0040},{"s":"b34","c":36,"v":0.0058},{"s":"b34","c":37,"v":0.0045},{"s":"b34","c":38,"v":0.0070},{"s":"b34","c":39,"v":0.0040},{"s":"b34","c":40,"v":0.0055},
{"s":"b35","c":25,"v":0.0008},{"s":"b35","c":26,"v":0.0004},{"s":"b35","c":27,"v":0.0011},{"s":"b35","c":28,"v":0.0005},{"s":"b35","c":29,"v":0.0015},{"s":"b35","c":30,"v":0.0007},{"s":"b35","c":31,"v":0.0002},{"s":"b35","c":32,"v":0.0012},{"s":"b35","c":33,"v":0.00045},{"s":"b35","c":34,"v":0.0018},{"s":"b35","c":35,"v":0.0009},{"s":"b35","c":36,"v":0.0016},{"s":"b35","c":37,"v":0.00025},{"s":"b35","c":38,"v":0.0011},{"s":"b35","c":39,"v":0.0016},{"s":"b35","c":40,"v":0.0006},
{"s":"b36","c":25,"v":0.0065},{"s":"b36","c":26,"v":0.0055},{"s":"b36","c":27,"v":0.0068},{"s":"b36","c":28,"v":0.0058},{"s":"b36","c":29,"v":0.0072},{"s":"b36","c":30,"v":0.0088},{"s":"b36","c":31,"v":0.0135},{"s":"b36","c":32,"v":0.025},{"s":"b36","c":33,"v":0.048},{"s":"b36","c":34,"v":0.09},{"s":"b36","c":35,"v":0.165},{"s":"b36","c":36,"v":0.28},{"s":"b36","c":37,"v":0.43},{"s":"b36","c":38,"v":0.63},{"s":"b36","c":39,"v":0.87},{"s":"b36","c":40,"v":1.15},
{"s":"b37","c":25,"v":0.0038},{"s":"b37","c":26,"v":0.0028},{"s":"b37","c":27,"v":0.0044},{"s":"b37","c":28,"v":0.0036},{"s":"b37","c":29,"v":0.0030},{"s":"b37","c":30,"v":0.0042},{"s":"b37","c":31,"v":0.0062},{"s":"b37","c":32,"v":0.011},{"s":"b37","c":33,"v":0.022},{"s":"b37","c":34,"v":0.045},{"s":"b37","c":35,"v":0.092},{"s":"b37","c":36,"v":0.17},{"s":"b37","c":37,"v":0.29},{"s":"b37","c":38,"v":0.45},{"s":"b37","c":39,"v":0.66},{"s":"b37","c":40,"v":0.9},
{"s":"b38","c":25,"v":0.0020},{"s":"b38","c":26,"v":0.0034},{"s":"b38","c":27,"v":0.0024},{"s":"b38","c":28,"v":0.0016},{"s":"b38","c":29,"v":0.0030},{"s":"b38","c":30,"v":0.0026},{"s":"b38","c":31,"v":0.0038},{"s":"b38","c":32,"v":0.0055},{"s":"b38","c":33,"v":0.0095},{"s":"b38","c":34,"v":0.02},{"s":"b38","c":35,"v":0.044},{"s":"b38","c":36,"v":0.092},{"s":"b38","c":37,"v":0.175},{"s":"b38","c":38,"v":0.3},{"s":"b38","c":39,"v":0.47},{"s":"b38","c":40,"v":0.68},
{"s":"b39","c":25,"v":0.0044},{"s":"b39","c":26,"v":0.0036},{"s":"b39","c":27,"v":0.0028},{"s":"b39","c":28,"v":0.0042},{"s":"b39","c":29,"v":0.0034},{"s":"b39","c":30,"v":0.0040},{"s":"b39","c":31,"v":0.0036},{"s":"b39","c":32,"v":0.0046},{"s":"b39","c":33,"v":0.0072},{"s":"b39","c":34,"v":0.014},{"s":"b39","c":35,"v":0.031},{"s":"b39","c":36,"v":0.068},{"s":"b39","c":37,"v":0.135},{"s":"b39","c":38,"v":0.24},{"s":"b39","c":39,"v":0.39},{"s":"b39","c":40,"v":0.56},
{"s":"b40","c":25,"v":0.0030},{"s":"b40","c":26,"v":0.0040},{"s":"b40","c":27,"v":0.0034},{"s":"b40","c":28,"v":0.0026},{"s":"b40","c":29,"v":0.0040},{"s":"b40","c":30,"v":0.0034},{"s":"b40","c":31,"v":0.0048},{"s":"b40","c":32,"v":0.0068},{"s":"b40","c":33,"v":0.012},{"s":"b40","c":34,"v":0.024},{"s":"b40","c":35,"v":0.05},{"s":"b40","c":36,"v":0.1},{"s":"b40","c":37,"v":0.19},{"s":"b40","c":38,"v":0.33},{"s":"b40","c":39,"v":0.5},{"s":"b40","c":40,"v":0.72},
{"s":"b41","c":25,"v":0.0036},{"s":"b41","c":26,"v":0.0022},{"s":"b41","c":27,"v":0.0016},{"s":"b41","c":28,"v":0.0038},{"s":"b41","c":29,"v":0.0024},{"s":"b41","c":30,"v":0.0012},{"s":"b41","c":31,"v":0.0032},{"s":"b41","c":32,"v":0.0020},{"s":"b41","c":33,"v":0.0042},{"s":"b41","c":34,"v":0.0018},{"s":"b41","c":35,"v":0.0028},{"s":"b41","c":36,"v":0.0040},{"s":"b41","c":37,"v":0.0020},{"s":"b41","c":38,"v":0.0032},{"s":"b41","c":39,"v":0.0026},{"s":"b41","c":40,"v":0.0046},
{"s":"b42","c":25,"v":0.0014},{"s":"b42","c":26,"v":0.0024},{"s":"b42","c":27,"v":0.0008},{"s":"b42","c":28,"v":0.00016},{"s":"b42","c":29,"v":0.0020},{"s":"b42","c":30,"v":0.0030},{"s":"b42","c":31,"v":0.0014},{"s":"b42","c":32,"v":0.0010},{"s":"b42","c":33,"v":0.0026},{"s":"b42","c":34,"v":0.0013},{"s":"b42","c":35,"v":0.0022},{"s":"b42","c":36,"v":0.00018},{"s":"b42","c":37,"v":0.0026},{"s":"b42","c":38,"v":0.0016},{"s":"b42","c":39,"v":0.0030},{"s":"b42","c":40,"v":0.0018},
{"s":"b43","c":25,"v":0.0062},{"s":"b43","c":26,"v":0.0048},{"s":"b43","c":27,"v":0.0036},{"s":"b43","c":28,"v":0.0052},{"s":"b43","c":29,"v":0.0044},{"s":"b43","c":30,"v":0.0030},{"s":"b43","c":31,"v":0.0054},{"s":"b43","c":32,"v":0.0040},{"s":"b43","c":33,"v":0.0060},{"s":"b43","c":34,"v":0.0045},{"s":"b43","c":35,"v":0.0032},{"s":"b43","c":36,"v":0.0062},{"s":"b43","c":37,"v":0.0052},{"s":"b43","c":38,"v":0.0040},{"s":"b43","c":39,"v":0.0078},{"s":"b43","c":40,"v":0.0062},
{"s":"b44","c":25,"v":0.0005},{"s":"b44","c":26,"v":0.0013},{"s":"b44","c":27,"v":0.0003},{"s":"b44","c":28,"v":0.0018},{"s":"b44","c":29,"v":0.0009},{"s":"b44","c":30,"v":0.0004},{"s":"b44","c":31,"v":0.0014},{"s":"b44","c":32,"v":0.00006},{"s":"b44","c":33,"v":0.0012},{"s":"b44","c":34,"v":0.0008},{"s":"b44","c":35,"v":0.0021},{"s":"b44","c":36,"v":0.0010},{"s":"b44","c":37,"v":0.0003},{"s":"b44","c":38,"v":0.0017},{"s":"b44","c":39,"v":0.0007},{"s":"b44","c":40,"v":0.0013},
{"s":"b45","c":25,"v":0.0024},{"s":"b45","c":26,"v":0.0040},{"s":"b45","c":27,"v":0.0030},{"s":"b45","c":28,"v":0.0020},{"s":"b45","c":29,"v":0.0012},{"s":"b45","c":30,"v":0.0034},{"s":"b45","c":31,"v":0.0026},{"s":"b45","c":32,"v":0.0036},{"s":"b45","c":33,"v":0.0018},{"s":"b45","c":34,"v":0.0032},{"s":"b45","c":35,"v":0.0045},{"s":"b45","c":36,"v":0.0024},{"s":"b45","c":37,"v":0.0038},{"s":"b45","c":38,"v":0.0022},{"s":"b45","c":39,"v":0.0040},{"s":"b45","c":40,"v":0.0033},
{"s":"b46","c":25,"v":0.0011},{"s":"b46","c":26,"v":0.00022},{"s":"b46","c":27,"v":0.0026},{"s":"b46","c":28,"v":0.0016},{"s":"b46","c":29,"v":0.0024},{"s":"b46","c":30,"v":0.0009},{"s":"b46","c":31,"v":0.0022},{"s":"b46","c":32,"v":0.0028},{"s":"b46","c":33,"v":0.0007},{"s":"b46","c":34,"v":0.0023},{"s":"b46","c":35,"v":0.0015},{"s":"b46","c":36,"v":0.0030},{"s":"b46","c":37,"v":0.0019},{"s":"b46","c":38,"v":0.00014},{"s":"b46","c":39,"v":0.0022},{"s":"b46","c":40,"v":0.0028},
{"s":"b47","c":25,"v":0.0048},{"s":"b47","c":26,"v":0.0062},{"s":"b47","c":27,"v":0.0052},{"s":"b47","c":28,"v":0.0066},{"s":"b47","c":29,"v":0.0050},{"s":"b47","c":30,"v":0.0058},{"s":"b47","c":31,"v":0.0072},{"s":"b47","c":32,"v":0.0055},{"s":"b47","c":33,"v":0.0065},{"s":"b47","c":34,"v":0.0078},{"s":"b47","c":35,"v":0.0060},{"s":"b47","c":36,"v":0.0072},{"s":"b47","c":37,"v":0.0085},{"s":"b47","c":38,"v":0.0068},{"s":"b47","c":39,"v":0.0092},{"s":"b47","c":40,"v":0.0105},
{"s":"b48","c":25,"v":0.00015},{"s":"b48","c":26,"v":0.0016},{"s":"b48","c":27,"v":0.0009},{"s":"b48","c":28,"v":0.0024},{"s":"b48","c":29,"v":0.0005},{"s":"b48","c":30,"v":0.0017},{"s":"b48","c":31,"v":0.0029},{"s":"b48","c":32,"v":0.0012},{"s":"b48","c":33,"v":0.0019},{"s":"b48","c":34,"v":0.00009},{"s":"b48","c":35,"v":0.0021},{"s":"b48","c":36,"v":0.0014},{"s":"b48","c":37,"v":0.0024},{"s":"b48","c":38,"v":0.0006},{"s":"b48","c":39,"v":0.0019},{"s":"b48","c":40,"v":0.0012},
{"s":"b49","c":25,"v":0.0034},{"s":"b49","c":26,"v":0.0016},{"s":"b49","c":27,"v":0.0030},{"s":"b49","c":28,"v":0.0024},{"s":"b49","c":29,"v":0.0040},{"s":"b49","c":30,"v":0.0028},{"s":"b49","c":31,"v":0.0018},{"s":"b49","c":32,"v":0.0038},{"s":"b49","c":33,"v":0.0030},{"s":"b49","c":34,"v":0.0022},{"s":"b49","c":35,"v":0.0036},{"s":"b49","c":36,"v":0.0028},{"s":"b49","c":37,"v":0.0045},{"s":"b49","c":38,"v":0.0034},{"s":"b49","c":39,"v":0.0026},{"s":"b49","c":40,"v":0.0050},
{"s":"b50","c":25,"v":0.0009},{"s":"b50","c":26,"v":0.0018},{"s":"b50","c":27,"v":0.0012},{"s":"b50","c":28,"v":0.0007},{"s":"b50","c":29,"v":0.0020},{"s":"b50","c":30,"v":0.00035},{"s":"b50","c":31,"v":0.0013},{"s":"b50","c":32,"v":0.0021},{"s":"b50","c":33,"v":0.0011},{"s":"b50","c":34,"v":0.0016},{"s":"b50","c":35,"v":0.0004},{"s":"b50","c":36,"v":0.0019},{"s":"b50","c":37,"v":0.0013},{"s":"b50","c":38,"v":0.0022},{"s":"b50","c":39,"v":0.0005},{"s":"b50","c":40,"v":0.0015}
]
},
"hconcat": [
{
 "width": 474, "height": 438,
 "layer": [
  {
   "data": {"name": "left"},
   "mark": {"type": "line", "strokeWidth": 1, "opacity": 0.85, "clip": true},
   "encoding": {
    "x": {"field": "c", "type": "quantitative", "scale": {"domain": [25, 40], "nice": false, "zero": false},
          "axis": {"values": [25, 30, 35, 40], "title": "Cycle", "titleFont": "Liberation Serif", "titleFontSize": 30, "labelFont": "Liberation Serif", "labelFontSize": 29, "tickSize": -5, "labelPadding": 12, "titlePadding": 8, "labelFlush": false}},
    "y": {"field": "v", "type": "quantitative", "scale": {"type": "log", "domain": [0.000042, 2.82], "nice": false},
          "axis": {"values": [0.00005,0.00006,0.00007,0.00008,0.00009,0.0001,0.0002,0.0003,0.0004,0.0005,0.0006,0.0007,0.0008,0.0009,0.001,0.002,0.003,0.004,0.005,0.006,0.007,0.008,0.009,0.01,0.02,0.03,0.04,0.05,0.06,0.07,0.08,0.09,0.1,0.2,0.3,0.4,0.5,0.6,0.7,0.8,0.9,1,2],
                   "labelOverlap": false, "title": "Normalized Fluorescence", "titleFont": "Liberation Serif", "titleFontSize": 31, "labelFont": "Liberation Serif", "labelFontSize": 28, "tickSize": -4, "labelPadding": 11, "titlePadding": 5,
                   "labelExpr": "abs(log(datum.value)/LN10 - round(log(datum.value)/LN10)) > 0.01 ? '' : datum.value >= 0.5 ? '10⁰' : datum.value >= 0.05 ? '10⁻¹' : datum.value >= 0.005 ? '10⁻²' : datum.value >= 0.0005 ? '10⁻³' : '10⁻⁴'"}},
    "color": {"field": "s", "type": "nominal", "scale": {"range": ["#0072BD", "#D95319", "#EDB120", "#7E2F8E", "#77AC30", "#4DBEEE", "#A2142F"]}, "legend": null}
   }
  },
  {
   "data": {"values": [{"v": 0.052}]},
   "mark": {"type": "rule", "color": "#e8141c", "strokeWidth": 3.5, "strokeDash": [3.5, 3]},
   "encoding": {"y": {"field": "v", "type": "quantitative"}}
  },
  {
   "data": {"values": [{"v": 0.0375}]},
   "mark": {"type": "rule", "color": "#f2ea1a", "strokeWidth": 3.5, "strokeDash": [3.5, 3]},
   "encoding": {"y": {"field": "v", "type": "quantitative"}}
  },
  {
   "data": {"values": [{"c": 26.5, "v": 0.88, "t": "Linear-fit baseline"}, {"c": 26.5, "v": 0.335, "t": "subtraction"}]},
   "mark": {"type": "text", "align": "left", "baseline": "middle", "font": "Liberation Serif", "fontSize": 31, "color": "#111111"},
   "encoding": {
    "x": {"field": "c", "type": "quantitative"},
    "y": {"field": "v", "type": "quantitative"},
    "text": {"field": "t"}
   }
  }
 ]
},
{
 "width": 474, "height": 438,
 "layer": [
  {
   "data": {"name": "right"},
   "mark": {"type": "line", "strokeWidth": 1, "opacity": 0.85, "clip": true},
   "encoding": {
    "x": {"field": "c", "type": "quantitative", "scale": {"domain": [25, 40], "nice": false, "zero": false},
          "axis": {"values": [25, 30, 35, 40], "title": "Cycle", "titleFont": "Liberation Serif", "titleFontSize": 30, "labelFont": "Liberation Serif", "labelFontSize": 29, "tickSize": -5, "labelPadding": 12, "titlePadding": 8, "labelFlush": false}},
    "y": {"field": "v", "type": "quantitative", "scale": {"type": "log", "domain": [0.000042, 2.82], "nice": false},
          "axis": {"values": [0.00005,0.00006,0.00007,0.00008,0.00009,0.0001,0.0002,0.0003,0.0004,0.0005,0.0006,0.0007,0.0008,0.0009,0.001,0.002,0.003,0.004,0.005,0.006,0.007,0.008,0.009,0.01,0.02,0.03,0.04,0.05,0.06,0.07,0.08,0.09,0.1,0.2,0.3,0.4,0.5,0.6,0.7,0.8,0.9,1,2],
                   "labelOverlap": false, "title": "Normalized Fluorescence", "titleFont": "Liberation Serif", "titleFontSize": 31, "labelFont": "Liberation Serif", "labelFontSize": 28, "tickSize": -4, "labelPadding": 11, "titlePadding": 5,
                   "labelExpr": "abs(log(datum.value)/LN10 - round(log(datum.value)/LN10)) > 0.01 ? '' : datum.value >= 0.5 ? '10⁰' : datum.value >= 0.05 ? '10⁻¹' : datum.value >= 0.005 ? '10⁻²' : datum.value >= 0.0005 ? '10⁻³' : '10⁻⁴'"}},
    "color": {"field": "s", "type": "nominal", "scale": {"range": ["#0072BD", "#D95319", "#EDB120", "#7E2F8E", "#77AC30", "#4DBEEE", "#A2142F"]}, "legend": null}
   }
  },
  {
   "data": {"values": [{"v": 0.0197}]},
   "mark": {"type": "rule", "color": "#e8141c", "strokeWidth": 3.5, "strokeDash": [3.5, 3]},
   "encoding": {"y": {"field": "v", "type": "quantitative"}}
  },
  {
   "data": {"values": [{"v": 0.0013}]},
   "mark": {"type": "rule", "color": "#f2ea1a", "strokeWidth": 3.5, "strokeDash": [3.5, 3]},
   "encoding": {"y": {"field": "v", "type": "quantitative"}}
  },
  {
   "data": {"values": [{"c": 26.27, "v": 0.85, "t": "Extraction-blank"}, {"c": 26.27, "v": 0.315, "t": "baseline subtraction"}]},
   "mark": {"type": "text", "align": "left", "baseline": "middle", "font": "Liberation Serif", "fontSize": 31, "color": "#111111"},
   "encoding": {
    "x": {"field": "c", "type": "quantitative"},
    "y": {"field": "v", "type": "quantitative"},
    "text": {"field": "t"}
   }
  }
 ]
}
]
}
